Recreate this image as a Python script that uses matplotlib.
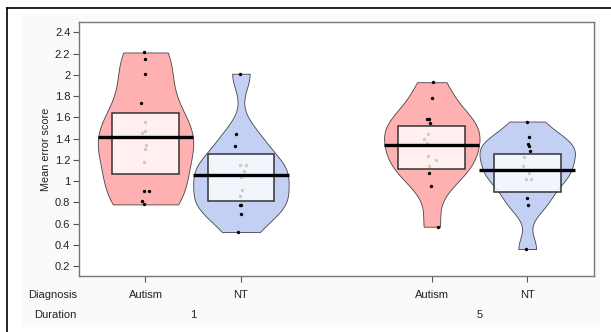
import numpy as np
import matplotlib.pyplot as plt
from matplotlib.patches import Rectangle
import matplotlib.transforms as mtransforms

plt.rcParams['font.family'] = ['Liberation Sans', 'DejaVu Sans']

# --- data ---
diagnosis = ['Autism', 'NT', 'Autism', 'NT']
duration = ['1', '5']
positions = [1, 2, 4, 5]

autism_1 = [2.21, 2.15, 2.01, 1.73, 1.56, 1.47, 1.45, 1.34, 1.30, 1.18, 0.91, 0.91, 0.81, 0.78]
nt_1 = [2.01, 1.44, 1.33, 1.15, 1.15, 1.09, 1.04, 0.92, 0.86, 0.77, 0.77, 0.69, 0.52]
autism_5 = [1.93, 1.78, 1.58, 1.58, 1.55, 1.44, 1.40, 1.36, 1.24, 1.20, 1.14, 1.08, 0.95, 0.57]
nt_5 = [1.56, 1.41, 1.35, 1.33, 1.28, 1.23, 1.14, 1.08, 1.02, 1.02, 0.84, 0.77, 0.36]

# horizontal jitter of the points (x units)
autism_1_jit = [-0.014, 0, 0, -0.049, 0, 0, -0.04, 0.01, -0.01, -0.014, -0.014, 0.035, -0.04, -0.017]
nt_1_jit = [-0.014, -0.049, -0.059, -0.014, 0.049, 0.035, 0, 0.007, -0.01, -0.014, 0, 0, -0.03]
autism_5_jit = [0.01, 0, -0.05, -0.03, -0.017, -0.035, -0.077, -0.05, -0.035, 0.042, -0.028, -0.028, -0.01, 0.063]
nt_5_jit = [0, 0.024, 0.007, 0.02, 0.03, -0.038, -0.042, 0.017, -0.01, 0.035, 0, 0.007, -0.01]

# inference band (box) limits
box_lo = [1.069, 0.812, 1.113, 0.897]
box_hi = [1.637, 1.251, 1.518, 1.252]

groups = [autism_1, nt_1, autism_5, nt_5]
jitters = [autism_1_jit, nt_1_jit, autism_5_jit, nt_5_jit]

bean_col = {'Autism': '#FFB1B1', 'NT': '#C4D0F3'}


def density_nrd0(x, grid):
    # gaussian kernel density, R's default bandwidth
    x = np.asarray(x)
    n = len(x)
    sd = x.std(ddof=1)
    iqr = np.subtract(*np.percentile(x, [75, 25]))
    bw = 0.9 * min(sd, iqr / 1.34) * n ** -0.2
    d = np.exp(-0.5 * ((grid[:, None] - x[None, :]) / bw) ** 2).sum(axis=1)
    return d


fig = plt.figure(figsize=(6.11, 3.32), dpi=100)
fig.patches.append(Rectangle((22 / 611, 7 / 332), 578 / 611, 310 / 332,
                             transform=fig.transFigure, facecolor='#FAFAFA',
                             edgecolor='none', zorder=-10))
# screenshot frame lines (top and left)
fig.add_artist(plt.Line2D([7 / 611, 1], [1 - 8 / 332, 1 - 8 / 332], color='black', lw=1.2,
                          transform=fig.transFigure))
fig.add_artist(plt.Line2D([7 / 611, 7 / 611], [0, 1 - 8 / 332], color='black', lw=1.2,
                          transform=fig.transFigure))

ax = fig.add_axes([78.7 / 611, 1 - 275.7 / 332, (594 - 78.7) / 611, (275.7 - 22.3) / 332])
ax.set_facecolor('white')

for pos, vals, jit, diag, lo, hi in zip(positions, groups, jitters, diagnosis, box_lo, box_hi):
    vals = np.asarray(vals)
    grid = np.linspace(vals.min(), vals.max(), 300)
    dens = density_nrd0(vals, grid)
    half = dens / dens.max() * 0.5
    ax.fill_betweenx(grid, pos - half, pos + half, facecolor=bean_col[diag],
                     edgecolor='#444444', lw=0.6, zorder=1)
    ax.scatter(pos + np.asarray(jit), vals, s=6, color='black', lw=0, zorder=2)
    ax.add_patch(Rectangle((pos - 0.35, lo), 0.7, hi - lo, facecolor='white',
                           alpha=0.8, edgecolor='none', zorder=3))
    ax.add_patch(Rectangle((pos - 0.35, lo), 0.7, hi - lo, facecolor='none',
                           edgecolor='#333333', lw=1.1, zorder=4))
    ax.plot([pos - 0.5, pos + 0.5], [vals.mean()] * 2, color='black', lw=2.4,
            solid_capstyle='butt', zorder=5)

ax.set_xlim(0.3, 5.7)
ax.set_ylim(0.109, 2.494)
ax.set_yticks(np.arange(0.2, 2.41, 0.2))
ax.set_yticklabels(['0.2', '0.4', '0.6', '0.8', '1', '1.2', '1.4', '1.6', '1.8', '2', '2.2', '2.4'])
ax.set_xticks(positions)
ax.set_xticklabels([])
ax.tick_params(axis='both', length=4, width=0.8, color='#555555', labelsize=8,
               labelcolor='#222222', pad=2)
ax.set_ylabel('Mean error score', fontsize=7.8, color='#222222', labelpad=3)
for sp in ax.spines.values():
    sp.set_color('#777777')
    sp.set_linewidth(1)

trans = mtransforms.blended_transform_factory(ax.transData, fig.transFigure)
for pos, diag in zip(positions, diagnosis):
    ax.text(pos, 1 - 295 / 332, diag, transform=trans, ha='center', va='center',
            fontsize=8, color='#222222')
for pos, lab in zip([1.5, 4.5], duration):
    ax.text(pos, 1 - 315 / 332, lab, transform=trans, ha='center', va='center',
            fontsize=8, color='#222222')
fig.text(53 / 611, 1 - 295 / 332, 'Diagnosis', ha='center', va='center', fontsize=8,
         color='#222222')
fig.text(55 / 611, 1 - 315 / 332, 'Duration', ha='center', va='center', fontsize=8,
         color='#222222')

fig.savefig('out.png', dpi=100)
